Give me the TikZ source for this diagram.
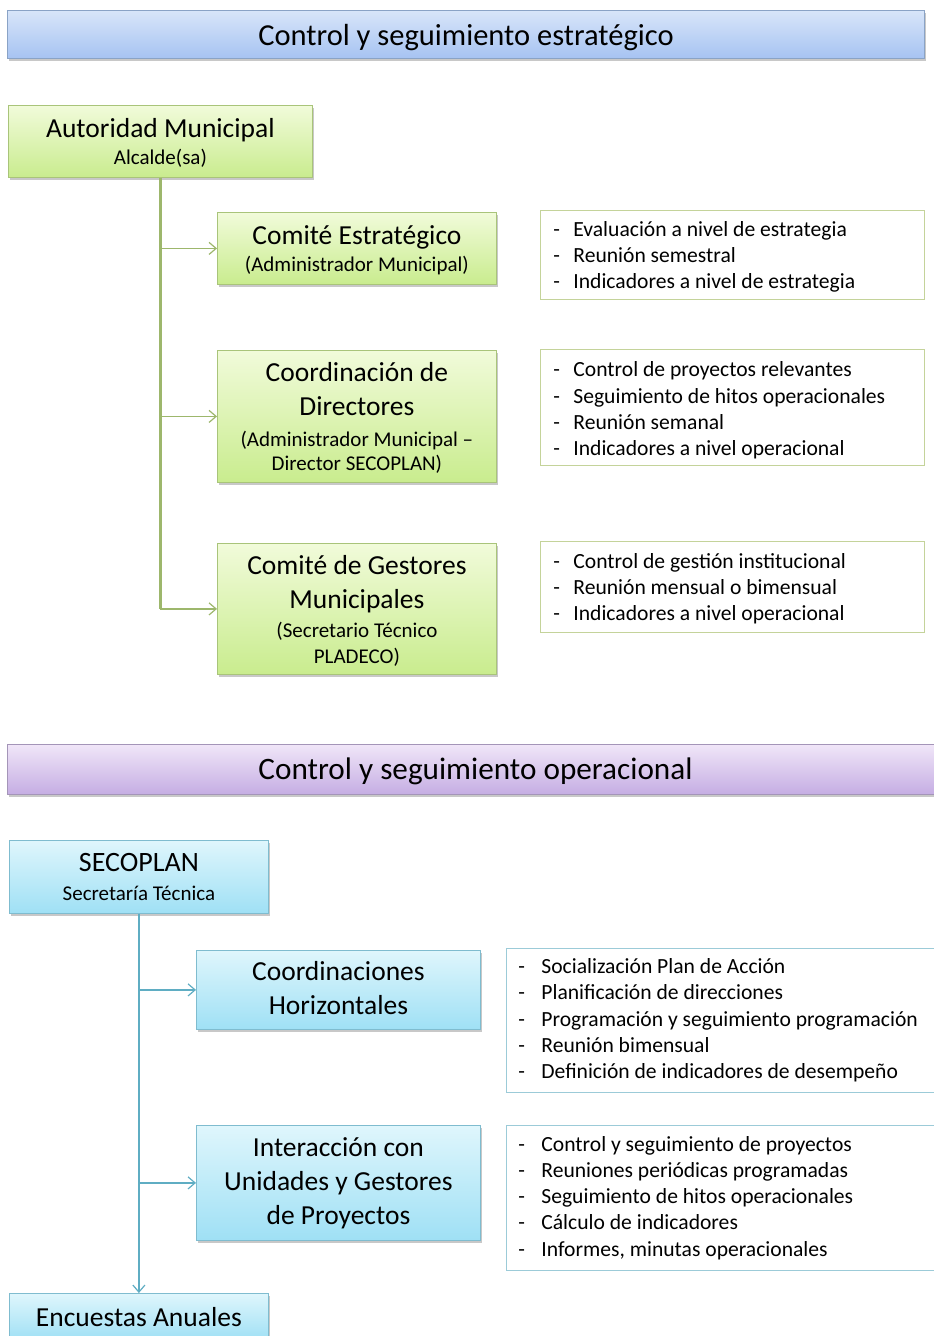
\documentclass[tikz,border=0pt]{standalone}
\usepackage{fontspec}
\setmainfont{Carlito}
\usetikzlibrary{arrows.meta,shadows}
\definecolor{bluetop}{HTML}{D8E5F9}
\definecolor{bluebot}{HTML}{A6C3F2}
\definecolor{blueborder}{HTML}{8AA3C6}
\definecolor{greentop}{HTML}{F1FBDA}
\definecolor{greenbot}{HTML}{C9EC8E}
\definecolor{greenborder}{HTML}{A9C47A}
\definecolor{cyantop}{HTML}{DFF6FC}
\definecolor{cyanbot}{HTML}{9FE0F5}
\definecolor{cyanborder}{HTML}{7FBCCF}
\definecolor{purptop}{HTML}{F0E6F8}
\definecolor{purpbot}{HTML}{C5ADE3}
\definecolor{purpborder}{HTML}{A495B8}
\definecolor{greenline}{HTML}{9DB76C}
\definecolor{blueline}{HTML}{5FADC3}
\definecolor{listgreen}{HTML}{C4D39A}
\definecolor{listblue}{HTML}{9CCBD8}
\newcommand\fT{\fontsize{30.5}{37}\selectfont}
\newcommand\fL{\fontsize{27.5}{34}\selectfont}
\newcommand\fS{\fontsize{21}{24}\selectfont}
\newcommand\fI{\fontsize{21.6}{26.2}\selectfont}
\newcommand\Lg[1]{{\fL #1\par}}
\newcommand\Sm[1]{{\fS #1\par}}
\newcommand\da{\makebox[20pt][l]{-}}
\newcommand\db{\makebox[23pt][l]{-}}
% move visible content by #1 without changing its box
\newcommand\vmove[2]{\raisebox{#1}[\height][\depth]{#2}}
\newcommand\cbl[3]{\vmove{#2}{\parbox{#1}{\centering #3}}}
\newcommand\lbl[3]{\vmove{#2}{\parbox{#1}{\raggedright #3}}}
\begin{document}
\begin{tikzpicture}[x=1pt,y=-1pt,
  shadowed/.style={drop shadow={shadow xshift=1.5pt,shadow yshift=-2.5pt,opacity=.3,fill=black!70}},
  banner/.style={shadowed,line width=1pt,inner sep=0pt,anchor=north west},
  bluebanner/.style={banner,draw=blueborder,top color=bluetop,bottom color=bluebot},
  purpbanner/.style={banner,draw=purpborder,top color=purptop,bottom color=purpbot},
  box/.style={shadowed,line width=0.8pt,inner sep=0pt,anchor=north west},
  gbox/.style={box,draw=greenborder,top color=greentop,bottom color=greenbot},
  cbox/.style={box,draw=cyanborder,top color=cyantop,bottom color=cyanbot},
  listbox/.style={fill=white,line width=0.8pt,inner ysep=0pt,anchor=north west,font=\fI},
  glist/.style={listbox,draw=listgreen,inner xsep=13pt},
  clist/.style={listbox,draw=listblue,inner xsep=12pt},
  gvline/.style={draw=greenline,line width=2.6pt},
  bvline/.style={draw=blueline,line width=2.6pt},
  garrow/.style={draw=greenline,line width=1.4pt,-{Straight Barb[length=7pt,width=12pt,line width=1.2pt]}},
  barrow/.style={draw=blueline,line width=1.4pt,-{Straight Barb[length=7pt,width=12pt,line width=1.2pt]}},
]
\clip (0,0) rectangle (934,1336);
\fill[white] (0,0) rectangle (934,1336);

% ---- Section 1
\node[bluebanner,minimum width=917pt,minimum height=48pt] (t1) at (7,10)
  {\vmove{-3pt}{\fT Control y seguimiento estratégico}};

\node[gbox,minimum width=304pt,minimum height=72pt] (auth) at (8,105)
  {\cbl{294pt}{-1.5pt}{\Lg{Autoridad Municipal}\vskip3.5pt\Sm{Alcalde(sa)}}};

\node[gbox,minimum width=279pt,minimum height=72pt] (g1) at (217,212)
  {\cbl{270pt}{-2pt}{\Lg{Comité Estratégico}\vskip2.5pt\Sm{(Administrador Municipal)}}};
\node[gbox,minimum width=279pt,minimum height=132pt] (g2) at (217,350)
  {\cbl{270pt}{-1.5pt}{\Lg{Coordinación de\\Directores}\vskip7.5pt\Sm{(Administrador Municipal –\\Director SECOPLAN)}}};
\node[gbox,minimum width=279pt,minimum height=131pt] (g3) at (217,543)
  {\cbl{270pt}{-2pt}{\Lg{Comité de Gestores\\Municipales}\vskip2.5pt{\fontsize{21}{26}\selectfont (Secretario Técnico\\PLADECO)\par}}};

\node[glist,minimum width=384pt,minimum height=89pt] (l1) at (540,210)
  {\lbl{358pt}{-2pt}{\da Evaluación a nivel de estrategia\\\da Reunión semestral\\\da Indicadores a nivel de estrategia}};
\node[glist,minimum width=384pt,minimum height=116pt] (l2) at (540,349)
  {\lbl{358pt}{-3pt}{\da Control de proyectos relevantes\\\da Seguimiento de hitos operacionales\\\da Reunión semanal\\\da Indicadores a nivel operacional}};
\node[glist,minimum width=384pt,minimum height=91pt] (l3) at (540,541)
  {\lbl{358pt}{-2pt}{\da Control de gestión institucional\\\da Reunión mensual o bimensual\\\da Indicadores a nivel operacional}};

\draw[gvline] (auth.south) -- (auth.south |- g3.west);
\draw[garrow] (auth.south |- g1.west) -- (g1.west);
\draw[garrow] (auth.south |- g2.west) -- (g2.west);
\draw[garrow] (auth.south |- g3.west) -- (g3.west);

% ---- Section 2
\node[purpbanner,minimum width=940pt,minimum height=50pt] (t2) at (7,744)
  {\hspace*{-4pt}\vmove{-2pt}{\fontsize{31.2}{37}\selectfont Control y seguimiento operacional}};

\node[cbox,minimum width=259pt,minimum height=73pt] (sec) at (9,840)
  {\cbl{250pt}{0pt}{{\fontsize{28}{34}\selectfont SECOPLAN\par}\vskip5.5pt\Sm{Secretaría Técnica}}};

\node[cbox,minimum width=284pt,minimum height=79pt] (c1) at (196,950)
  {\cbl{275pt}{2pt}{\Lg{Coordinaciones\\Horizontales}}};
\node[cbox,minimum width=284pt,minimum height=115pt] (c2) at (196,1125)
  {\cbl{275pt}{0pt}{\Lg{Interacción con\\Unidades y Gestores\\de Proyectos}}};

\node[clist,minimum width=440pt,minimum height=144pt] (l4) at (506,948)
  {\lbl{416pt}{0pt}{\db Socialización Plan de Acción\\\db Planificación de direcciones\\\db Programación y seguimiento programación\\\db Reunión bimensual\\\db Definición de indicadores de desempeño}};
\node[clist,minimum width=440pt,minimum height=145pt] (l5) at (506,1125)
  {\lbl{416pt}{0pt}{\db Control  y seguimiento de proyectos\\\db Reuniones periódicas programadas\\\db Seguimiento de hitos operacionales\\\db Cálculo de indicadores\\\db Informes, minutas operacionales}};

\node[cbox,minimum width=259pt,minimum height=47pt] (enc) at (9,1293)
  {\cbl{250pt}{0pt}{\Lg{Encuestas Anuales}}};

\draw[bvline,-{Straight Barb[length=7pt,width=12pt,line width=1.2pt]}] (sec.south) -- (enc.north);
\draw[barrow] (sec.south |- c1.west) -- (c1.west);
\draw[barrow] (sec.south |- c2.west) -- (c2.west);
\end{tikzpicture}
\end{document}
